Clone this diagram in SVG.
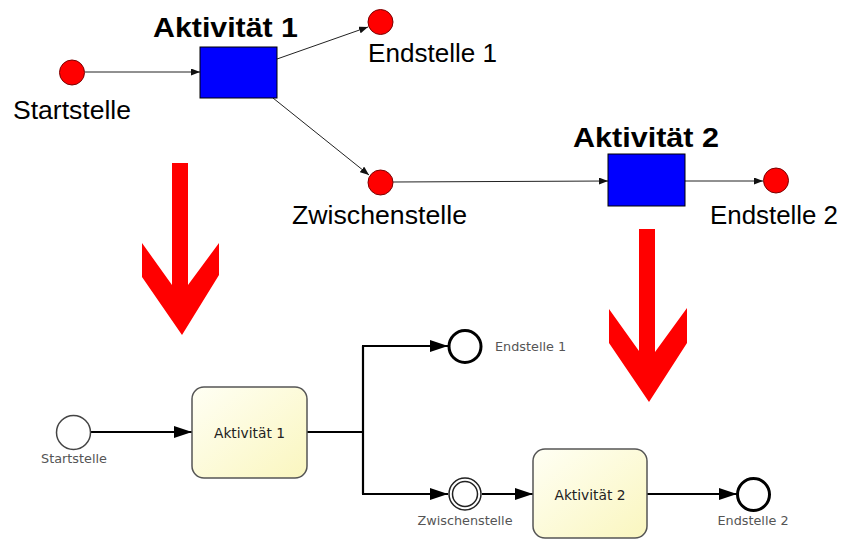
<svg xmlns="http://www.w3.org/2000/svg" width="843" height="540" viewBox="0 0 843 540">
<defs>
<style>
.red{fill:#ff0000;stroke:#7a0000;stroke-width:1}
.blue{fill:#0000ff;stroke:#000;stroke-width:1}
.big{font-family:"Liberation Sans",Arial,sans-serif;font-size:25px;fill:#000}
.bold{font-family:"Liberation Sans",Arial,sans-serif;font-size:27px;font-weight:bold;fill:#000}
.thin{stroke:#222;stroke-width:1;fill:none}
.thick{stroke:#000;stroke-width:2.2;fill:none}
.act{fill:url(#yg);stroke:#555;stroke-width:1.5}
.albl{font-family:"DejaVu Sans",Verdana,sans-serif;font-size:13.8px;fill:#222;text-anchor:middle}
.lbl{font-family:"DejaVu Sans",Verdana,sans-serif;font-size:12.8px;fill:#555}
.ev{fill:#fff;stroke:#000;stroke-width:3}
.start{fill:#fff;stroke:#444;stroke-width:1.5}
.arr{fill:#ff0000}
</style>
<linearGradient id="yg" x1="0" y1="0" x2="1" y2="1">
<stop offset="0" stop-color="#fffff4"/>
<stop offset="1" stop-color="#faf6bf"/>
</linearGradient>
<marker id="sm" markerUnits="userSpaceOnUse" markerWidth="9" markerHeight="7" refX="9" refY="3.5" orient="auto">
<path d="M0,0 L9,3.5 L0,7 z" fill="#111"/>
</marker>
<marker id="bg" markerUnits="userSpaceOnUse" markerWidth="18" markerHeight="12" refX="18" refY="6" orient="auto">
<path d="M0,0 L18,6 L0,12 z" fill="#000"/>
</marker>
</defs>

<g id="connectors">
<line class="thin" x1="85" y1="72" x2="200" y2="72" marker-end="url(#sm)"/>
<line class="thin" x1="277" y1="59" x2="368" y2="27" marker-end="url(#sm)"/>
<line class="thin" x1="273" y1="98" x2="369" y2="175" marker-end="url(#sm)"/>
<line class="thin" x1="393" y1="182" x2="608" y2="181" marker-end="url(#sm)"/>
<line class="thin" x1="685" y1="181" x2="763" y2="181" marker-end="url(#sm)"/>

<line class="thick" x1="91" y1="432" x2="192" y2="432" marker-end="url(#bg)"/>
<polyline class="thick" points="307,432 363,432"/>
<polyline class="thick" points="363,346 363,494"/>
<polyline class="thick" points="362,346 448,346" marker-end="url(#bg)"/>
<polyline class="thick" points="362,494 448,494" marker-end="url(#bg)"/>
<line class="thick" x1="482" y1="494" x2="533" y2="494" marker-end="url(#bg)"/>
<line class="thick" x1="647" y1="494" x2="737" y2="494" marker-end="url(#bg)"/>
</g>

<g id="start-top">
<circle class="red" cx="72" cy="72.5" r="12.5"/>
<text class="big" x="13" y="119" textLength="118" lengthAdjust="spacingAndGlyphs">Startstelle</text>
</g>
<g id="akt1-top">
<rect class="blue" x="200" y="47" width="77" height="51"/>
<text class="bold" x="153" y="37" textLength="145" lengthAdjust="spacingAndGlyphs">Aktivität 1</text>
</g>
<g id="end1-top">
<circle class="red" cx="380.5" cy="22" r="12.5"/>
<text class="big" x="368" y="62" textLength="129" lengthAdjust="spacingAndGlyphs">Endstelle 1</text>
</g>
<g id="zw-top">
<circle class="red" cx="380.5" cy="182.5" r="12.5"/>
<text class="big" x="292" y="224" textLength="175" lengthAdjust="spacingAndGlyphs">Zwischenstelle</text>
</g>
<g id="akt2-top">
<rect class="blue" x="608" y="154" width="77" height="52"/>
<text class="bold" x="573" y="147" textLength="146" lengthAdjust="spacingAndGlyphs">Aktivität 2</text>
</g>
<g id="end2-top">
<circle class="red" cx="776" cy="180.5" r="12.5"/>
<text class="big" x="710" y="224" textLength="128" lengthAdjust="spacingAndGlyphs">Endstelle 2</text>
</g>

<g id="arrow-left">
<polygon class="arr" points="172,163 188,163 188,285 219,243 219,275 182,335 142,277 142,243 172,285"/>
</g>
<g id="arrow-right">
<polygon class="arr" points="639,229 655,229 655,352 687,308 687,343 649,402 609,343 609,309 639,351"/>
</g>

<g id="start-bottom">
<circle class="start" cx="73.5" cy="432.5" r="17"/>
<text class="lbl" x="74" y="463" text-anchor="middle">Startstelle</text>
</g>
<g id="akt1-bottom">
<rect class="act" x="192" y="387" width="115" height="91" rx="12"/>
<text class="albl" x="249.5" y="438">Aktivität 1</text>
</g>
<g id="end1-bottom">
<circle class="ev" cx="465" cy="346.5" r="16"/>
<text class="lbl" x="495" y="351">Endstelle 1</text>
</g>
<g id="zw-bottom">
<circle cx="465" cy="494" r="16" fill="#fff" stroke="#222" stroke-width="1.5"/>
<circle cx="465" cy="494" r="12.5" fill="#fff" stroke="#222" stroke-width="1.5"/>
<text class="lbl" x="465" y="525" text-anchor="middle">Zwischenstelle</text>
</g>
<g id="akt2-bottom">
<rect class="act" x="533" y="449" width="114" height="89" rx="12"/>
<text class="albl" x="590" y="500">Aktivität 2</text>
</g>
<g id="end2-bottom">
<circle class="ev" cx="753.5" cy="494.5" r="16"/>
<text class="lbl" x="753" y="525" text-anchor="middle">Endstelle 2</text>
</g>
</svg>
